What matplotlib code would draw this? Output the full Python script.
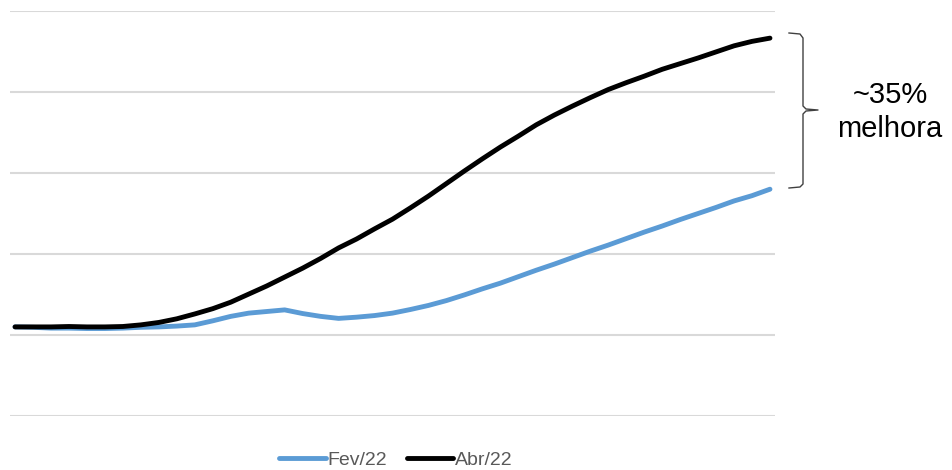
import numpy as np
import matplotlib.pyplot as plt
from matplotlib.lines import Line2D

plt.rcParams['font.family'] = ['Liberation Sans', 'DejaVu Sans']

# values (grid 0..100)
fev22 = [22.0, 21.9, 21.7, 21.7, 21.6, 21.6, 21.7, 21.9, 22.0, 22.2,
         22.5, 23.5, 24.6, 25.4, 25.8, 26.2, 25.3, 24.6, 24.1, 24.4,
         24.8, 25.4, 26.3, 27.3, 28.5, 29.9, 31.4, 32.8, 34.4, 36.0,
         37.5, 39.1, 40.7, 42.2, 43.8, 45.4, 46.9, 48.5, 50.0, 51.5,
         53.1, 54.4, 56.0]
abr22 = [22.0, 22.0, 22.0, 22.1, 22.0, 22.0, 22.1, 22.5, 23.1, 24.0,
         25.2, 26.5, 28.1, 30.1, 32.1, 34.3, 36.5, 38.9, 41.5, 43.7,
         46.2, 48.6, 51.4, 54.3, 57.4, 60.5, 63.5, 66.4, 69.1, 71.9,
         74.3, 76.5, 78.6, 80.6, 82.3, 83.9, 85.6, 87.0, 88.4, 89.9,
         91.4, 92.5, 93.3]
labels = ['Fev/22', 'Abr/22']
colors = ['#5B9BD5', '#000000']
gridvals = [0, 20, 40, 60, 80, 100]

x = np.arange(len(fev22))

fig = plt.figure(figsize=(9.53, 4.70), dpi=100)
ax = fig.add_axes([10/953, 1 - 416/470, 765/953, 405/470])

for val in gridvals:
    ax.axhline(val, color='#d9d9d9', lw=1.5, zorder=0)

ax.plot(x, fev22, color=colors[0], lw=3.5, label=labels[0], solid_capstyle='round')
ax.plot(x, abr22, color=colors[1], lw=3.5, label=labels[1], solid_capstyle='round')

ax.set_xlim(-0.28, len(x) - 1 + 0.28)
ax.set_ylim(0, 100)
ax.axis('off')

# curly bracket on the right side (figure pixel coords)
def fx(px):
    return px / 953

def fy(py):
    return 1 - py / 470

bx = [789, 800, 803, 803, 806, 818, 806, 803, 803, 800, 789]
by = [33, 34, 38, 106, 109, 110, 111, 114, 184, 187, 188]
fig.add_artist(Line2D([fx(v) for v in bx], [fy(v) for v in by],
                      color='#404040', lw=1.0, transform=fig.transFigure))

fig.text(fx(890), fy(112), '~35%\nmelhora', ha='center', va='center',
         fontsize=21, linespacing=1.3, color='#000000')

fig.legend(loc='center', bbox_to_anchor=(0.4155, 0.021), ncol=2, frameon=False,
           fontsize=14, handlelength=2.4, handletextpad=0.1, columnspacing=1.0,
           labelcolor='#595959')

fig.savefig('out.png', dpi=100)
